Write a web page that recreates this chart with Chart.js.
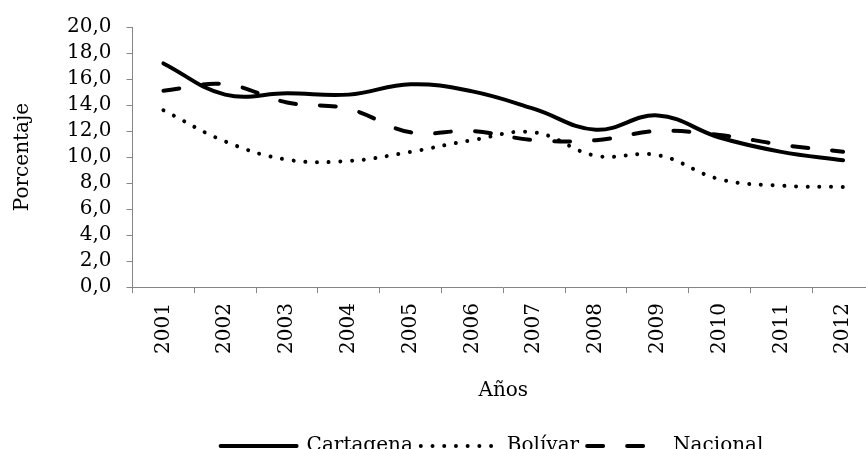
<!DOCTYPE html>
<html>
<head>
<meta charset="utf-8">
<script src="https://cdn.jsdelivr.net/npm/chart.js@4/dist/chart.umd.min.js"></script>
<style>
  html, body { margin: 0; padding: 0; background: #fff; overflow: hidden; }
  #wrap { width: 866px; height: 449px; overflow: hidden; position: relative; }
  canvas { display: block; }
</style>
</head>
<body>
<div id="wrap"><canvas id="c" width="880" height="469"></canvas></div>
<script>
const years = ['2001','2002','2003','2004','2005','2006','2007','2008','2009','2010','2011','2012'];
const cartagena = [17.2, 14.8, 14.9, 14.8, 15.6, 15.05, 13.7, 12.1, 13.2, 11.5, 10.4, 9.75];
const bolivar   = [13.6, 11.2, 9.8, 9.7, 10.4, 11.3, 11.9, 10.1, 10.15, 8.3, 7.8, 7.7];
const nacional  = [15.1, 15.6, 14.2, 13.7, 11.9, 12.0, 11.3, 11.3, 12.0, 11.7, 10.95, 10.4];
const yTitle = 'Porcentaje';
const xTitle = 'Años';

const FONT = 'DejaVu Serif';
const FS = 20;
const AXIS = '#868686';

const legendShift = {
  id: 'legendShift',
  afterLayout(chart) {
    const lg = chart.legend;
    if (!lg) return;
    const target = 492;
    const cur = (lg.left + lg.right) / 2;
    const d = target - cur;
    lg.left += d; lg.right += d;
  }
};

new Chart(document.getElementById('c'), {
  type: 'line',
  data: {
    labels: years,
    datasets: [
      { label: 'Cartagena', data: cartagena, borderColor: '#000', backgroundColor: '#000',
        borderWidth: 4, pointRadius: 0, tension: 0.4, borderCapStyle: 'round', fill: false },
      { label: 'Bolívar', data: bolivar, borderColor: '#000', backgroundColor: '#000',
        borderWidth: 4, pointRadius: 0, tension: 0.4, borderDash: [0.01, 11.7], borderCapStyle: 'round', fill: false },
      { label: 'Nacional', data: nacional, borderColor: '#000', backgroundColor: '#000',
        borderWidth: 4, pointRadius: 0, tension: 0.4, borderDash: [16, 24], borderCapStyle: 'round', fill: false }
    ]
  },
  options: {
    responsive: false,
    devicePixelRatio: 1,
    animation: false,
    layout: { padding: { left: 11, right: 6, top: 8, bottom: 3 } },
    plugins: {
      tooltip: { enabled: false },
      legend: {
        position: 'bottom',
        labels: {
          color: '#000',
          font: { family: FONT, size: FS },
          usePointStyle: true,
          pointStyle: 'line',
          pointStyleWidth: 76,
          padding: 8,
          generateLabels(chart) {
            const items = Chart.defaults.plugins.legend.labels.generateLabels(chart);
            items.forEach((it, i) => {
              const ds = chart.data.datasets[i];
              it.lineDash = ds.borderDash || [];
              it.lineCap = ds.borderCapStyle || 'butt';
              it.lineWidth = ds.borderWidth;
              it.strokeStyle = '#000';
              it.fillStyle = '#000';
              it.pointStyle = 'line';
            });
            return items;
          }
        }
      }
    },
    scales: {
      x: {
        offset: true,
        grid: { offset: true, drawOnChartArea: false, tickLength: 6, color: AXIS },
        border: { color: AXIS, width: 1 },
        ticks: { color: '#000', font: { family: FONT, size: FS }, minRotation: 90, maxRotation: 90, padding: 10 },
        title: { display: true, text: xTitle, color: '#000', font: { family: FONT, size: FS }, padding: { top: 15, bottom: 25 } }
      },
      y: {
        min: 0, max: 20,
        grid: { drawOnChartArea: false, tickLength: 6, color: AXIS },
        border: { color: AXIS, width: 1 },
        ticks: { stepSize: 2, autoSkip: false, color: '#000', font: { family: FONT, size: FS }, padding: 15,
                 callback: v => v.toFixed(1).replace('.', ',') },
        title: { display: true, text: yTitle, color: '#000', font: { family: FONT, size: FS }, padding: { top: 0, bottom: 17 } }
      }
    }
  },
  plugins: [legendShift]
});
</script>
</body>
</html>
